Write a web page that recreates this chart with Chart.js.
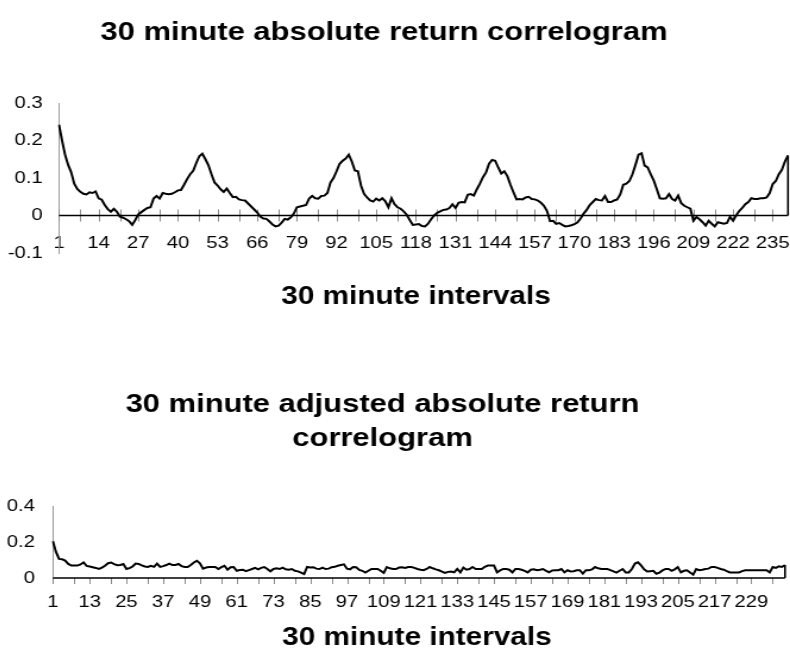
<!DOCTYPE html>
<html><head><meta charset="utf-8">
<script src="https://cdn.jsdelivr.net/npm/chart.js@4.4.1/dist/chart.umd.min.js"></script>
<style>
html,body{margin:0;padding:0;background:#fff;overflow:hidden;width:790px;height:656px;position:relative}
canvas{position:absolute;left:-20px}
</style></head><body>
<canvas id="c1" width="681" height="330" style="width:810px;height:330px;top:0px"></canvas>
<canvas id="c2" width="681" height="326" style="width:810px;height:326px;top:330px"></canvas>
<script>
// ---- data ----
const lags = Array.from({length: 240}, (_, i) => String(i + 1));

const topTitle = '30 minute absolute return correlogram';
const bottomTitle = ['30 minute adjusted absolute return', 'correlogram'];
const xAxisTitle = '30 minute intervals';

const topTickLabels = ['1','14','27','40','53','66','79','92','105','118','131','144','157','170','183','196','209','222','235'];
const bottomTickLabels = ['1','13','25','37','49','61','73','85','97','109','121','133','145','157','169','181','193','205','217','229'];

const topYTicks = [-0.1, 0, 0.1, 0.2, 0.3];
const bottomYTicks = [0, 0.2, 0.4];

const absoluteReturnAcf = [
 0.242,0.200,0.162,0.135,0.115,0.085,0.071,0.063,0.058,0.056,
 0.062,0.060,0.064,0.046,0.042,0.028,0.017,0.010,0.018,0.010,
 -0.003,-0.006,-0.010,-0.015,-0.025,-0.012,0.003,0.009,0.015,0.020,
 0.022,0.045,0.052,0.045,0.060,0.058,0.057,0.058,0.062,0.067,
 0.068,0.082,0.097,0.110,0.119,0.140,0.158,0.165,0.150,0.134,
 0.110,0.088,0.080,0.070,0.063,0.072,0.060,0.049,0.050,0.043,
 0.041,0.040,0.032,0.024,0.016,0.008,-0.003,-0.008,-0.009,-0.016,
 -0.024,-0.029,-0.027,-0.019,-0.009,-0.011,-0.005,0.005,0.022,0.024,
 0.026,0.028,0.045,0.052,0.046,0.045,0.052,0.053,0.060,0.088,
 0.100,0.118,0.138,0.146,0.152,0.162,0.144,0.120,0.118,0.080,
 0.058,0.048,0.040,0.037,0.045,0.040,0.046,0.038,0.022,0.046,
 0.030,0.022,0.018,0.011,0.002,-0.012,-0.025,-0.024,-0.023,-0.028,
 -0.029,-0.022,-0.010,0.000,0.007,0.011,0.015,0.016,0.020,0.030,
 0.020,0.034,0.036,0.035,0.055,0.057,0.053,0.070,0.085,0.102,
 0.115,0.138,0.148,0.146,0.128,0.112,0.118,0.105,0.082,0.062,
 0.043,0.044,0.043,0.048,0.050,0.044,0.043,0.040,0.034,0.026,
 0.012,-0.015,-0.014,-0.022,-0.020,-0.025,-0.029,-0.028,-0.026,-0.023,
 -0.018,-0.008,0.005,0.015,0.028,0.036,0.044,0.041,0.040,0.052,
 0.036,0.036,0.040,0.043,0.056,0.082,0.085,0.092,0.110,0.135,
 0.162,0.166,0.133,0.128,0.110,0.093,0.070,0.046,0.045,0.046,
 0.057,0.044,0.040,0.053,0.033,0.026,0.022,0.018,-0.014,-0.004,
 -0.010,-0.018,-0.027,-0.014,-0.022,-0.029,-0.018,-0.020,-0.022,-0.020,
 -0.003,-0.014,0.000,0.012,0.020,0.030,0.036,0.046,0.044,0.044,
 0.046,0.046,0.048,0.060,0.084,0.092,0.110,0.122,0.144,0.160
];

const adjustedReturnAcf = [
 0.204,0.145,0.106,0.104,0.097,0.078,0.069,0.069,0.069,0.075,
 0.087,0.067,0.064,0.060,0.056,0.051,0.058,0.068,0.082,0.086,
 0.077,0.071,0.072,0.078,0.050,0.055,0.064,0.080,0.078,0.070,
 0.064,0.061,0.068,0.062,0.080,0.062,0.066,0.072,0.080,0.072,
 0.072,0.078,0.066,0.061,0.061,0.072,0.086,0.096,0.082,0.052,
 0.058,0.061,0.061,0.061,0.050,0.060,0.068,0.046,0.060,0.061,
 0.040,0.044,0.046,0.038,0.044,0.050,0.056,0.048,0.056,0.061,
 0.050,0.037,0.050,0.054,0.050,0.058,0.048,0.046,0.050,0.040,
 0.037,0.030,0.022,0.061,0.058,0.060,0.052,0.050,0.058,0.050,
 0.052,0.060,0.062,0.068,0.072,0.076,0.052,0.048,0.061,0.060,
 0.045,0.040,0.030,0.040,0.050,0.050,0.050,0.040,0.028,0.061,
 0.054,0.050,0.050,0.058,0.060,0.056,0.061,0.061,0.056,0.050,
 0.046,0.043,0.050,0.061,0.054,0.048,0.043,0.036,0.028,0.034,
 0.036,0.031,0.050,0.031,0.058,0.046,0.050,0.061,0.050,0.050,
 0.050,0.062,0.069,0.069,0.069,0.031,0.042,0.050,0.050,0.046,
 0.031,0.050,0.050,0.046,0.040,0.031,0.046,0.048,0.043,0.046,
 0.050,0.040,0.032,0.042,0.043,0.043,0.050,0.031,0.043,0.036,
 0.038,0.043,0.043,0.024,0.043,0.043,0.048,0.061,0.054,0.050,
 0.050,0.050,0.044,0.037,0.030,0.040,0.050,0.031,0.031,0.050,
 0.080,0.087,0.070,0.048,0.036,0.038,0.040,0.024,0.030,0.042,
 0.050,0.050,0.040,0.048,0.061,0.031,0.040,0.043,0.030,0.019,
 0.050,0.043,0.046,0.050,0.052,0.061,0.061,0.056,0.050,0.046,
 0.038,0.031,0.031,0.031,0.031,0.038,0.043,0.043,0.043,0.043,
 0.043,0.043,0.043,0.043,0.031,0.061,0.056,0.065,0.061,0.072
];

// ---- drawing ----
const FONT = "'Liberation Sans', Arial, Helvetica, sans-serif";

const axisExtras = {
  id: 'axisExtras',
  afterLayout(chart, args, opts) {
    // nudge the x-axis title box horizontally, as in the original layout
    const xt = chart.scales.xt;
    xt.left += opts.titleShift;
    xt.right += opts.titleShift;
  },
  beforeDatasetsDraw(chart, args, opts) {
    const xs = chart.scales.x, ys = chart.scales.y, ctx = chart.ctx;
    const y0 = ys.getPixelForValue(0);
    ctx.save();
    // tick marks on the zero line
    ctx.strokeStyle = opts.tickColor;
    ctx.lineWidth = 1;
    opts.tickLabels.forEach(lab => {
      const i = lags.indexOf(lab);
      [i, i + 7].forEach(k => {
        if (k < 0 || k >= lags.length) return;
        const px = Math.round(xs.getPixelForValue(k)) + 0.5;
        ctx.beginPath();
        ctx.moveTo(px, y0 - opts.up);
        ctx.lineTo(px, y0 + opts.down);
        ctx.stroke();
      });
    });
    // zero axis line
    ctx.strokeStyle = '#000';
    ctx.lineWidth = 1.6;
    ctx.beginPath();
    ctx.moveTo(chart.chartArea.left, y0);
    ctx.lineTo(chart.chartArea.right, y0);
    ctx.stroke();
    ctx.restore();
  },
  afterDatasetsDraw(chart) {
    const xs = chart.scales.x, ys = chart.scales.y, ctx = chart.ctx;
    const data = chart.data.datasets[0].data;
    const last = data.length - 1;
    const px = xs.getPixelForValue(last);
    ctx.save();
    ctx.strokeStyle = '#000';
    ctx.lineWidth = 1.6;
    ctx.beginPath();
    ctx.moveTo(px, ys.getPixelForValue(data[last]));
    ctx.lineTo(px, ys.getPixelForValue(0));
    ctx.stroke();
    ctx.restore();
  }
};

function buildChart(canvasId, spec) {
  return new Chart(document.getElementById(canvasId), {
    type: 'line',
    data: {
      labels: lags,
      datasets: [{
        data: spec.values,
        borderColor: '#000',
        borderWidth: 2,
        pointRadius: 0,
        fill: false,
        tension: 0
      }]
    },
    options: {
      responsive: false,
      animation: false,
      devicePixelRatio: 1,
      events: [],
      layout: {padding: {left: 0, top: 0, right: spec.padRight, bottom: 0}},
      plugins: {
        legend: {display: false},
        tooltip: {enabled: false},
        title: {
          display: true,
          text: spec.title,
          color: '#000',
          font: {family: FONT, size: 26, weight: 'bold', lineHeight: spec.titleLineHeight},
          padding: {top: spec.titleTop, bottom: spec.titleBottom}
        },
        axisExtras: {tickLabels: spec.tickLabels, tickColor: '#8a8a8a', up: spec.tickUp, down: spec.tickDown, titleShift: spec.titleShift}
      },
      scales: {
        x: {
          type: 'category',
          position: {y: spec.labelRowValue},
          grid: {display: false, drawTicks: false},
          border: {display: false},
          ticks: {
            autoSkip: false, maxRotation: 0, minRotation: 0,
            padding: 0,
            color: '#000',
            font: {family: FONT, size: 17},
            callback: function (v) {
              const l = this.getLabelForValue(v);
              return spec.tickLabels.includes(l) ? l : '';
            }
          },
          title: {display: false}
        },
        xt: {
          type: 'category',
          position: 'bottom',
          grid: {display: false, drawTicks: false},
          border: {display: false},
          ticks: {display: false},
          afterFit: s => { s.height = spec.xtHeight; },
          title: {
            display: true, text: xAxisTitle, color: '#000',
            font: {family: FONT, size: 25, weight: 'bold', lineHeight: 1.2},
            padding: {top: 0, bottom: spec.xTitleBottom}
          }
        },
        y: {
          min: spec.yTicks[0],
          max: spec.yTicks[spec.yTicks.length - 1],
          afterBuildTicks: s => { s.ticks = spec.yTicks.map(v => ({value: v})); },
          afterFit: s => { s.width = spec.yWidth; },
          grid: {display: true, drawOnChartArea: false, drawTicks: false},
          border: {display: true, color: '#9a9a9a', width: 1},
          ticks: {
            padding: spec.yTickPad,
            color: '#000',
            font: {family: FONT, size: 17},
            callback: v => String(Math.round(v * 10) / 10)
          }
        }
      }
    },
    plugins: [axisExtras]
  });
}

buildChart('c1', {
  values: absoluteReturnAcf,
  title: topTitle,
  titleLineHeight: 1.2,
  titleTop: 17.4, titleBottom: 54.4,
  tickLabels: topTickLabels,
  yTicks: topYTicks,
  yWidth: 66.4, yTickPad: 13.7,
  labelRowValue: -0.0461,
  xtHeight: 77, xTitleBottom: 18,
  titleShift: -6.3,
  padRight: 1.7,
  tickUp: 6, tickDown: 6
});

buildChart('c2', {
  values: adjustedReturnAcf,
  title: bottomTitle,
  titleLineHeight: 34 / 26,
  titleTop: 58, titleBottom: 50,
  tickLabels: bottomTickLabels,
  yTicks: bottomYTicks,
  yWidth: 61.3, yTickPad: 15.1,
  labelRowValue: -0.0767,
  xtHeight: 78, xTitleBottom: 3,
  titleShift: -1.7,
  padRight: 4.2,
  tickUp: 0, tickDown: 6
});
</script>
</body></html>
